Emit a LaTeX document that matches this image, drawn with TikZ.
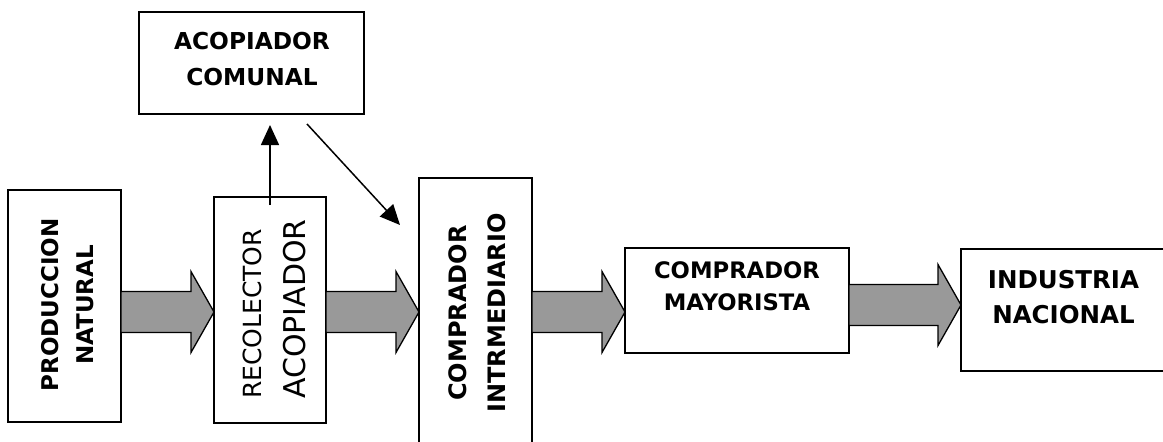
\documentclass[tikz,border=0pt]{standalone}
\usepackage{fontspec}
\setmainfont{DejaVu Sans}
\usetikzlibrary{calc,arrows.meta}
\begin{document}
\begin{tikzpicture}[x=1pt,y=-1pt,
  box/.style={draw,line width=1.5pt,inner sep=0pt,outer sep=0pt},
  lbl/.style={font=\bfseries\fontsize{23}{35}\selectfont,align=center,inner sep=0pt},
  fat/.style={draw,line width=1.3pt,fill=black!40,
    to path={let \p1=(\tikztostart),\p2=(\tikztotarget) in
      (\x1,\y1-20.5pt) -- (\x2-23pt,\y1-20.5pt) -- (\x2-23pt,\y1-40.5pt) -- (\x2,\y1)
      -- (\x2-23pt,\y1+40.5pt) -- (\x2-23pt,\y1+20.5pt) -- (\x1,\y1+20.5pt) -- cycle}},
  link/.style={line width=1.5pt,-{Triangle[length=20pt,width=18pt]}}]
\clip (0,0) rectangle (1163,442);
\fill[white] (0,0) rectangle (1163,442);
% boxes
\node[box,minimum width=113pt,minimum height=232pt] (prod) at (64.5,306) {};
\node[box,minimum width=112pt,minimum height=226pt] (rec) at (270,310) {};
\node[box,minimum width=225pt,minimum height=102pt] (aco) at (251.5,63) {};
\node[box,minimum width=113pt,minimum height=272pt] (inter) at (475.5,314) {};
\node[box,minimum width=224pt,minimum height=105pt] (may) at (737,300.5) {};
\node[box,minimum width=209pt,minimum height=122pt] (ind) at (1065.5,310) {};
% labels
\node[lbl,rotate=90,font=\bfseries\fontsize{23}{35}\selectfont] (prodt) at ($(prod.center)+(3,-1)$) {PRODUCCION\\NATURAL};
\node[rotate=90,align=left,inner sep=0pt,font=\fontsize{30}{44}\selectfont] (rect) at ($(rec.center)+(4,-1)$)
  {{\fontsize{25}{44}\selectfont RECOLECTOR}\\ACOPIADOR};
\node[lbl,font=\bfseries\fontsize{23.3}{36}\selectfont] (acot) at (252,59.5) {ACOPIADOR\\COMUNAL};
\node[lbl,rotate=90,font=\bfseries\fontsize{24}{39}\selectfont] (intert) at ($(inter.center)+(2,-1)$) {COMPRADOR\\INTRMEDIARIO};
\node[lbl,font=\bfseries\fontsize{22.7}{32}\selectfont] (mayt) at (737,286.5) {COMPRADOR\\MAYORISTA};
\node[lbl,font=\bfseries\fontsize{24.5}{35}\selectfont] (indt) at (1063.5,297.5) {INDUSTRIA\\NACIONAL};
% fat arrows
\draw[fat] (prod.east |- 0,312) to (rec.west |- 0,312);
\draw[fat] (rec.east |- 0,312) to (inter.west |- 0,312);
\draw[fat] (inter.east |- 0,312) to (may.west |- 0,312);
\draw[fat] (may.east |- 0,305) to (ind.west |- 0,305);
% thin arrows
\draw[link] ($(rec.north)+(0,8)$) -- ($(rec.north |- aco.south)+(0,11)$);
\coordinate (d1) at (307,124);
\coordinate (d2) at (400,225);
\draw[link] (d1) -- (d2);
\end{tikzpicture}
\end{document}
